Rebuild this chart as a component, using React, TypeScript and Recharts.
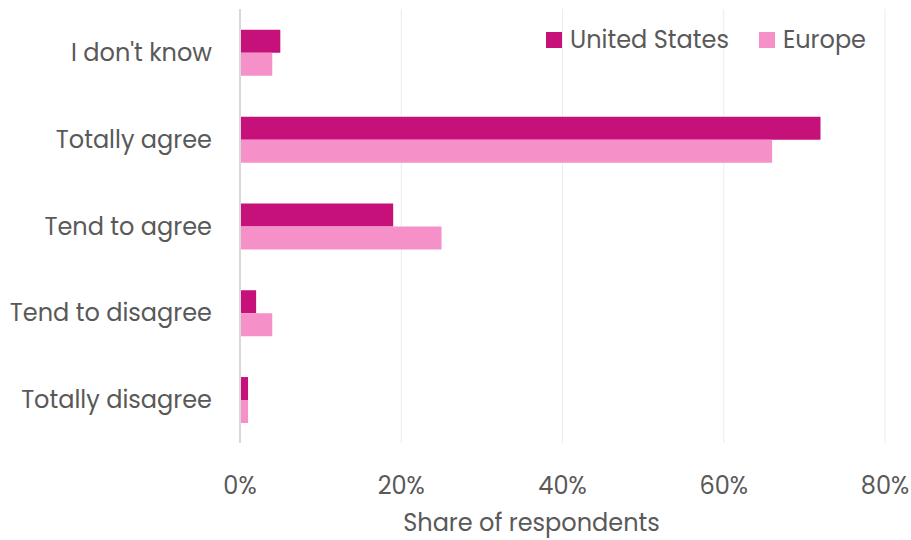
import React from 'react'
import { BarChart, Bar, XAxis, YAxis, CartesianGrid } from 'recharts'

const categories = ['I don\'t know', 'Totally agree', 'Tend to agree', 'Tend to disagree', 'Totally disagree']
const unitedStates = [5, 72, 19, 2, 1]
const europe = [4, 66, 25, 4, 1]
const xTicks = [0, 20, 40, 60, 80]

const US_COLOR = '#c6107a'
const EU_COLOR = '#f590c9'
const FONT = "Poppins, 'Open Sans', sans-serif"
const TEXT = '#595959'

const data = categories.map((name, i) => ({ name, us: unitedStates[i], eu: europe[i] }))
const series = [
  { key: 'us', name: 'United States', color: US_COLOR },
  { key: 'eu', name: 'Europe', color: EU_COLOR },
]

// legend sits inside the plot area, top right
function LegendBox() {
  return (
    <div style={{ position: 'absolute', top: 24, left: 546, display: 'flex', alignItems: 'center', fontFamily: FONT, fontSize: 24, color: TEXT, lineHeight: '32px' }}>
      {series.map((s, i) => (
        <div key={s.key} style={{ display: 'flex', alignItems: 'center', marginRight: i === 0 ? 30 : 0 }}>
          <span style={{ width: 16, height: 16, background: s.color, display: 'inline-block', marginRight: 8 }} />
          <span>{s.name}</span>
        </div>
      ))}
    </div>
  )
}

export default function App() {
  return (
    <div style={{ position: 'absolute', left: 0, top: 0, width: 911, height: 540, background: '#fff' }}>
      <BarChart
        width={911}
        height={540}
        data={data}
        layout="vertical"
        margin={{ top: 9, right: 26, bottom: 0, left: 0 }}
        barCategoryGap="24%"
        barGap={0}
      >
        <CartesianGrid horizontal={false} stroke="#ebebeb" />
        <XAxis
          type="number"
          domain={[0, 80]}
          ticks={xTicks}
          tickFormatter={(v) => v + '%'}
          axisLine={false}
          tickLine={false}
          tickMargin={28}
          height={97}
          tick={{ fill: TEXT, fontSize: 24, fontFamily: FONT }}
          label={{ value: 'Share of respondents', position: 'insideBottom', offset: 9, dx: -31, fill: TEXT, fontSize: 24, fontFamily: FONT }}
        />
        <YAxis
          type="category"
          dataKey="name"
          width={240}
          axisLine={{ stroke: '#d9d9d9', strokeWidth: 2 }}
          tickLine={false}
          tickMargin={22}
          tick={{ fill: TEXT, fontSize: 24, fontFamily: FONT }}
        />
        {series.map((s) => (
          <Bar key={s.key} dataKey={s.key} name={s.name} fill={s.color} isAnimationActive={false} />
        ))}
      </BarChart>
      <LegendBox />
    </div>
  )
}
